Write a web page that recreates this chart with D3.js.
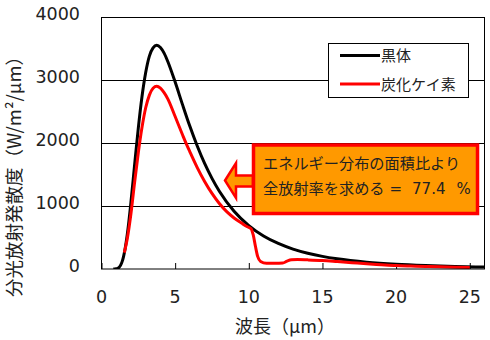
<!DOCTYPE html>
<html>
<head>
<meta charset="utf-8">
<script src="https://cdn.jsdelivr.net/npm/d3@7"></script>
<style>
  html, body { margin: 0; padding: 0; background: #fff; }
  svg { display: block; }
  .tick-label { font-family: "DejaVu Sans", Verdana, sans-serif; font-size: 17.5px; fill: #222; }
  .jp { font-family: "Noto Sans CJK JP", sans-serif; fill: #222; }
  .num { font-family: "DejaVu Sans", Verdana, sans-serif; }
</style>
</head>
<body>
<svg id="chart" width="490" height="340"></svg>
<script>
// Wavelength (µm) and spectral emittance (W/m²/µm)
const blackWave = [0.8, 0.9, 1.0, 1.1, 1.2, 1.3, 1.4, 1.5, 1.6, 1.75, 2.0, 2.25, 2.5, 2.75, 3.0, 3.25, 3.5, 3.75, 4.0, 4.25, 4.5, 5.0, 5.5, 6.0, 6.5, 7.0, 7.5, 8.0, 9.0, 10, 11, 12, 13, 14, 15, 16, 18, 20, 22, 24, 26];
const blackValue = [0, 0.3, 3, 10, 28, 61, 117, 201, 317, 547, 1063, 1659, 2241, 2738, 3118, 3379, 3510, 3551, 3517, 3427, 3294, 2967, 2609, 2264, 1952, 1676, 1439, 1235, 917, 689, 524, 405, 316, 250, 200, 162, 109, 76, 55, 40, 30];

const sicWave = [1.55, 1.75, 2.0, 2.25, 2.5, 2.75, 3.0, 3.25, 3.5, 3.75, 4.0, 4.25, 4.5, 5.0, 5.5, 5.75, 6.0, 6.5, 7.0, 7.5, 8.0, 8.5, 9.0, 9.5, 9.9, 10.15, 10.3, 10.45, 10.6, 10.8, 11.2, 11.8, 12.3, 12.6, 12.9, 13.3, 14, 15, 16, 17, 18, 19, 20, 21, 22, 23, 24, 25];
const sicValue = [260, 480, 880, 1380, 1850, 2250, 2560, 2760, 2870, 2900, 2870, 2800, 2700, 2420, 2130, 1990, 1860, 1610, 1390, 1200, 1040, 910, 810, 730, 670, 640, 540, 360, 200, 120, 90, 90, 95, 125, 145, 150, 145, 135, 118, 100, 82, 68, 55, 47, 40, 34, 29, 25];

const xTicks = [0, 5, 10, 15, 20, 25];
const yTicks = [0, 1000, 2000, 3000, 4000];
const seriesNames = ["黒体", "炭化ケイ素"];
const seriesColors = ["#000000", "#ff0000"];
const noteLine1 = "エネルギー分布の面積比より";
const noteLine2 = "全放射率を求める";
const emissivity = 77.4;

const svg = d3.select("#chart");
const plot = { left: 101.5, right: 484.5, top: 17, bottom: 269 };

const x = d3.scaleLinear().domain([0, 26]).range([plot.left, plot.right]);
const y = d3.scaleLinear().domain([0, 4000]).range([plot.bottom, plot.top]);

// horizontal gridlines
svg.append("g").selectAll("line")
  .data(yTicks.filter(v => v > 0 && v < 4000))
  .join("line")
  .attr("x1", plot.left).attr("x2", plot.right)
  .attr("y1", d => Math.round(y(d)) + 0.5).attr("y2", d => Math.round(y(d)) + 0.5)
  .attr("stroke", "#000").attr("stroke-width", 1);

// x axis ticks pointing inward
const xAxis = d3.axisBottom(x).tickValues(xTicks).tickSize(-6).tickFormat("");
const gx = svg.append("g").attr("transform", `translate(0,${plot.bottom})`).call(xAxis);
gx.select(".domain").remove();
gx.selectAll("line").attr("stroke", "#000");

// x tick labels
svg.append("g").selectAll("text")
  .data(xTicks).join("text")
  .attr("class", "tick-label")
  .attr("x", d => x(d)).attr("y", 303)
  .attr("text-anchor", "middle")
  .text(d => d);

// y tick labels
svg.append("g").selectAll("text")
  .data(yTicks).join("text")
  .attr("class", "tick-label")
  .attr("x", 80).attr("y", d => y(d) + 3)
  .attr("text-anchor", "end")
  .text(d => d);

// curves
const clipId = "plot-clip";
svg.append("clipPath").attr("id", clipId)
  .append("rect")
  .attr("x", plot.left).attr("y", plot.top)
  .attr("width", plot.right - plot.left).attr("height", plot.bottom - plot.top);

const line = d3.line().x(d => x(d[0])).y(d => y(d[1])).curve(d3.curveMonotoneX);
const curves = svg.append("g").attr("clip-path", `url(#${clipId})`);
curves.append("path")
  .datum(d3.zip(blackWave, blackValue))
  .attr("d", line).attr("fill", "none")
  .attr("stroke", seriesColors[0]).attr("stroke-width", 3);
curves.append("path")
  .datum(d3.zip(sicWave, sicValue))
  .attr("d", line).attr("fill", "none")
  .attr("stroke", seriesColors[1]).attr("stroke-width", 3);

// plot frame
svg.append("rect")
  .attr("x", plot.left).attr("y", plot.top + 0.5)
  .attr("width", plot.right - plot.left).attr("height", plot.bottom - plot.top - 0.5)
  .attr("fill", "none").attr("stroke", "#000").attr("stroke-width", 1);

// legend
const lg = svg.append("g");
lg.append("rect").attr("x", 328.5).attr("y", 43.5).attr("width", 140).attr("height", 54)
  .attr("fill", "#fff").attr("stroke", "#000").attr("stroke-width", 1);
seriesNames.forEach((name, i) => {
  const ly = 55.5 + i * 28.5;
  lg.append("line").attr("x1", 340).attr("x2", 380).attr("y1", ly).attr("y2", ly)
    .attr("stroke", seriesColors[i]).attr("stroke-width", 3);
  lg.append("text").attr("class", "jp").attr("x", 381).attr("y", ly + 5.5)
    .attr("font-size", 15).text(name);
});

// annotation arrow
const arrowPts = [[225, 180.5], [236, 163], [236, 175.5], [253, 175.5], [253, 186.5], [236, 186.5], [236, 198]];
svg.append("path")
  .attr("d", "M" + arrowPts.map(p => p.join(",")).join("L") + "Z")
  .attr("fill", "#ff9900").attr("stroke", "#ff0000").attr("stroke-width", 2.5)
  .attr("stroke-linejoin", "miter");

// annotation box
svg.append("rect").attr("x", 253.5).attr("y", 145).attr("width", 224).attr("height", 68.5)
  .attr("fill", "#ff9900").attr("stroke", "#ff0000").attr("stroke-width", 3.5);
svg.append("text").attr("class", "jp").attr("x", 263).attr("y", 168.5)
  .attr("font-size", 15.2).text(noteLine1);
const t2 = svg.append("text").attr("class", "jp").attr("x", 263).attr("y", 194).attr("font-size", 15.2);
t2.append("tspan").text(noteLine2);
t2.append("tspan").attr("class", "num").attr("dx", 5).attr("font-size", 15).text("=");
t2.append("tspan").attr("class", "num").attr("dx", 10).attr("font-size", 15).text(emissivity.toFixed(1));
t2.append("tspan").attr("class", "num").attr("dx", 11).attr("font-size", 15).text("%");

// axis titles
svg.append("text").attr("class", "jp")
  .attr("transform", "translate(21,172) rotate(-90)")
  .attr("text-anchor", "middle").attr("font-size", 18.5)
  .text("分光放射発散度（W/m²/μm）");
svg.append("text").attr("class", "jp")
  .attr("x", 285).attr("y", 333)
  .attr("text-anchor", "middle").attr("font-size", 18)
  .text("波長（μm）");
</script>
</body>
</html>
